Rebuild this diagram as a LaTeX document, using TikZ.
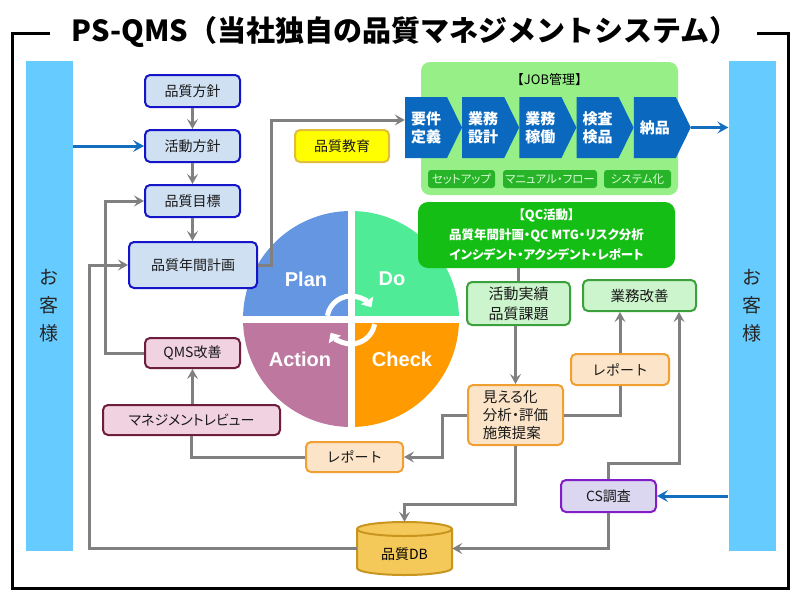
\documentclass[tikz,border=0pt]{standalone}
\usepackage{fontspec}
\setmainfont{Noto Sans CJK JP}
\newfontfamily\jpp{Noto Sans CJK JP}[RawFeature=+palt]
\newfontfamily\arialb{Liberation Sans}
\usetikzlibrary{arrows.meta,calc}
\definecolor{barblue}{RGB}{102,204,255}
\definecolor{cblue}{RGB}{20,110,190}
\definecolor{lgray}{RGB}{128,128,128}
\definecolor{bfill}{RGB}{207,224,243}
\definecolor{bborder}{RGB}{20,20,200}
\definecolor{yfill}{RGB}{255,255,0}
\definecolor{yborder}{RGB}{225,190,60}
\definecolor{jobfill}{RGB}{150,240,135}
\definecolor{chev}{RGB}{10,105,190}
\definecolor{subfill}{RGB}{40,180,40}
\definecolor{subtext}{RGB}{215,255,210}
\definecolor{qcfill}{RGB}{20,190,20}
\definecolor{gfill}{RGB}{205,245,205}
\definecolor{gborder}{RGB}{60,160,60}
\definecolor{pfill}{RGB}{252,228,200}
\definecolor{pborder}{RGB}{240,160,50}
\definecolor{kfill}{RGB}{240,210,225}
\definecolor{kborder}{RGB}{110,30,60}
\definecolor{lfill}{RGB}{220,215,240}
\definecolor{lborder}{RGB}{130,30,200}
\definecolor{dbfill}{RGB}{245,200,90}
\definecolor{dbborder}{RGB}{200,150,30}
\definecolor{planc}{RGB}{100,150,225}
\definecolor{doc}{RGB}{80,235,150}
\definecolor{actc}{RGB}{190,120,160}
\definecolor{chkc}{RGB}{255,155,0}
\tikzset{
  gline/.style={draw=lgray, line width=3pt},
  garrow/.style={gline, -{Stealth[length=10pt,width=11pt,inset=4pt]}},
  barrow/.style={draw=cblue, line width=3pt, -{Stealth[length=11pt,width=12pt,inset=4.5pt]}},
  basebox/.style={rounded corners=5pt, line width=2pt, inner sep=0pt, text=black!90, font=\fontsize{14}{17}\selectfont, align=center},
  bluebox/.style={basebox, draw=bborder, fill=bfill},
  yelbox/.style={basebox, draw=yborder, fill=yfill},
  grnbox/.style={basebox, draw=gborder, fill=gfill},
  pchbox/.style={basebox, draw=pborder, fill=pfill},
  pnkbox/.style={basebox, draw=kborder, fill=kfill},
  lavbox/.style={basebox, draw=lborder, fill=lfill},
  custbar/.style={fill=barblue, inner sep=0pt, align=center, font=\fontsize{19}{28}\selectfont, text=black!85},
  chevtext/.style={inner sep=0pt, text=white, align=center, font=\fontsize{15}{18}\selectfont\bfseries},
  sublab/.style={fill=subfill, rounded corners=3pt, inner sep=0pt, text=subtext, font=\jpp\fontsize{11.5}{13}\selectfont, minimum height=18pt},
  pdcalab/.style={text=white, font=\arialb\fontsize{20}{24}\selectfont\bfseries, inner sep=0pt},
}
\begin{document}
\begin{tikzpicture}[x=1pt, y=-1pt]
\useasboundingbox (0,0) rectangle (800,600);
\fill[white] (0,0) rectangle (800,600);

% frame and title
\draw[line width=3pt, line join=miter] (50,33) -- (12,33) -- (12,588) -- (788,588) -- (788,33) -- (757,33);
\node[font=\fontsize{29}{32}\selectfont\bfseries, inner sep=0pt] (title) at (405,32) {PS-QMS（当社独自の品質マネジメントシステム）};

% customer bars
\node[custbar, minimum width=47pt, minimum height=490pt] (barL) at (49,306) {お\\客\\様};
\node[custbar, minimum width=47pt, minimum height=490pt] (barR) at (752,306) {お\\客\\様};

% PDCA circle
\begin{scope}
\clip (351,319) circle[radius=108pt];
\fill[planc] (347.5,315.5) rectangle (230,200);
\fill[doc] (354.5,315.5) rectangle (470,200);
\fill[actc] (347.5,322.5) rectangle (230,440);
\fill[chkc] (354.5,322.5) rectangle (470,440);
\end{scope}
\node[pdcalab] (plan) at (306,279) {Plan};
\node[pdcalab] (do) at (392,279) {Do};
\node[pdcalab] (action) at (300,359) {Action};
\node[pdcalab] (check) at (402,359) {Check};
\begin{scope}[shift={(351,320)}]
\draw[white, line width=5pt, -{Triangle[length=8pt,width=14pt]}] (170:24pt) arc[start angle=170, end angle=32, radius=24pt];
\draw[white, line width=5pt, -{Triangle[length=8pt,width=14pt]}] (-10:24pt) arc[start angle=-10, end angle=-148, radius=24pt];
\end{scope}

% left column
\node[bluebox, minimum width=95pt, minimum height=32pt] (n1) at (192.5,91) {品質方針};
\node[bluebox, minimum width=95pt, minimum height=32pt] (n2) at (192.5,146) {活動方針};
\node[bluebox, minimum width=95pt, minimum height=32pt] (n3) at (192.5,201) {品質目標};
\node[bluebox, minimum width=128pt, minimum height=46pt] (n4) at (193,265) {品質年間計画};
\node[yelbox, minimum width=94pt, minimum height=32pt] (edu) at (342,146) {品質教育};

% JOB panel
\node[fill=jobfill, rounded corners=9pt, minimum width=257pt, minimum height=133pt, inner sep=0pt] (job) at (549.5,128.5) {};
\node[font=\fontsize{13}{15}\selectfont, inner sep=0pt] (jobt) at (549.5,80) {【JOB管理】};
\foreach \i/\t in {1/{要件\\定義}, 2/{業務\\設計}, 3/{業務\\稼働}, 4/{検査\\検品}, 5/{納品}} {
  \pgfmathsetmacro\L{405+57.2*(\i-1)}
  \fill[chev] (\L,97) -- (\L+42,97) -- (\L+57,127.5) -- (\L+42,158) -- (\L,158) -- cycle;
  \node[chevtext, minimum width=42pt, minimum height=61pt] (ch\i) at (\L+21,127.5) {\t};
}
\node[sublab, minimum width=67pt] (s1) at (461.5,179) {セットアップ};
\node[sublab, minimum width=94pt] (s2) at (550,179) {マニュアル・フロー};
\node[sublab, minimum width=67pt] (s3) at (637.5,179) {システム化};

% QC panel
\node[fill=qcfill, rounded corners=10pt, minimum width=257pt, minimum height=66pt, inner sep=0pt, text=white, align=center, font=\jpp\fontsize{12.5}{20}\selectfont\bfseries] (qc) at (546.5,235) {【QC活動】\\品質年間計画・QC MTG・リスク分析\\インシデント・アクシデント・レポート};

% right column
\node[grnbox, minimum width=103pt, minimum height=43pt, font=\fontsize{15}{20}\selectfont] (act) at (518.5,303.5) {活動実績\\品質課題};
\node[grnbox, minimum width=113pt, minimum height=31pt, font=\fontsize{14.5}{17}\selectfont] (kaizen) at (639.5,295.5) {業務改善};
\node[pchbox, minimum width=95pt, minimum height=60pt, align=left, font=\jpp\fontsize{14.5}{18}\selectfont] (mieru) at (515.5,415) {見える化\\分析・評価\\施策提案};
\node[pchbox, minimum width=98pt, minimum height=31pt] (repR) at (620,369.5) {レポート};
\node[lavbox, minimum width=95pt, minimum height=32pt] (cs) at (608.5,496) {CS調査};
\node[pchbox, minimum width=97pt, minimum height=30pt] (repL) at (354.5,457) {レポート};
\node[pnkbox, minimum width=177pt, minimum height=30pt, font=\jpp\fontsize{14}{17}\selectfont] (mr) at (191.5,420) {マネジメントレビュー};
\node[pnkbox, minimum width=95pt, minimum height=30pt] (qms) at (192.5,353) {QMS改善};

% DB cylinder
\begin{scope}[shift={(404.5,548.5)}]
\filldraw[fill=dbfill, draw=dbborder, line width=2pt] (-47.5pt,19.5pt) -- (-47.5pt,-19.5pt) arc[start angle=180, end angle=360, x radius=47.5pt, y radius=7pt] -- (47.5pt,19.5pt) arc[start angle=0, end angle=180, x radius=47.5pt, y radius=7pt] -- cycle;
\draw[dbborder, line width=2pt] (-47.5pt,19.5pt) arc[start angle=180, end angle=360, x radius=47.5pt, y radius=7pt];
\end{scope}
\node[minimum width=95pt, minimum height=53pt, inner sep=0pt] (db) at (404.5,548.5) {};
\node[font=\fontsize{14}{17}\selectfont, inner sep=0pt] (dbt) at (404.5,554) {品質DB};

% connectors
\draw[garrow] (n1.south) -- (n2.north);
\draw[garrow] (n2.south) -- (n3.north);
\draw[garrow] (n3.south) -- (n3.south |- n4.north);
\draw[barrow] (barL.east |- n2.west) -- (n2.west);
\draw[garrow] (n4.east) -- ++(13,0) |- ([yshift=7.5pt]ch1.west);
\draw[barrow] ([xshift=15pt]ch5.east) -- (barR.west |- ch5.east);
\draw[gline] (qc.south -| act.north) -- (act.north);
\draw[garrow] (act.south -| mieru.north) -- (mieru.north);
\draw[gline] (mieru.east) -| (repR.south);
\draw[garrow] (repR.north) -- (repR.north |- kaizen.south);
\draw[garrow] (cs.north) -- (cs.north |- 0,463) -| ([xshift=39.5pt]kaizen.south);
\draw[barrow] (barR.west |- cs.east) -- (cs.east);
\draw[garrow] (cs.south) |- (db.east);
\draw[garrow] (mieru.south) -- ++(0,58) -| (db.north);
\draw[garrow] (mieru.west) -- ++(-25,0) |- (repL.east);
\draw[gline] (repL.west) -| (mr.south);
\draw[garrow] (mr.north -| qms.south) -- (qms.south);
\draw[garrow] (qms.west) -- ++(-39,0) |- (n3.west);
\draw[garrow] (db.west) -- ++(-267,0) |- (n4.west);
\end{tikzpicture}
\end{document}
